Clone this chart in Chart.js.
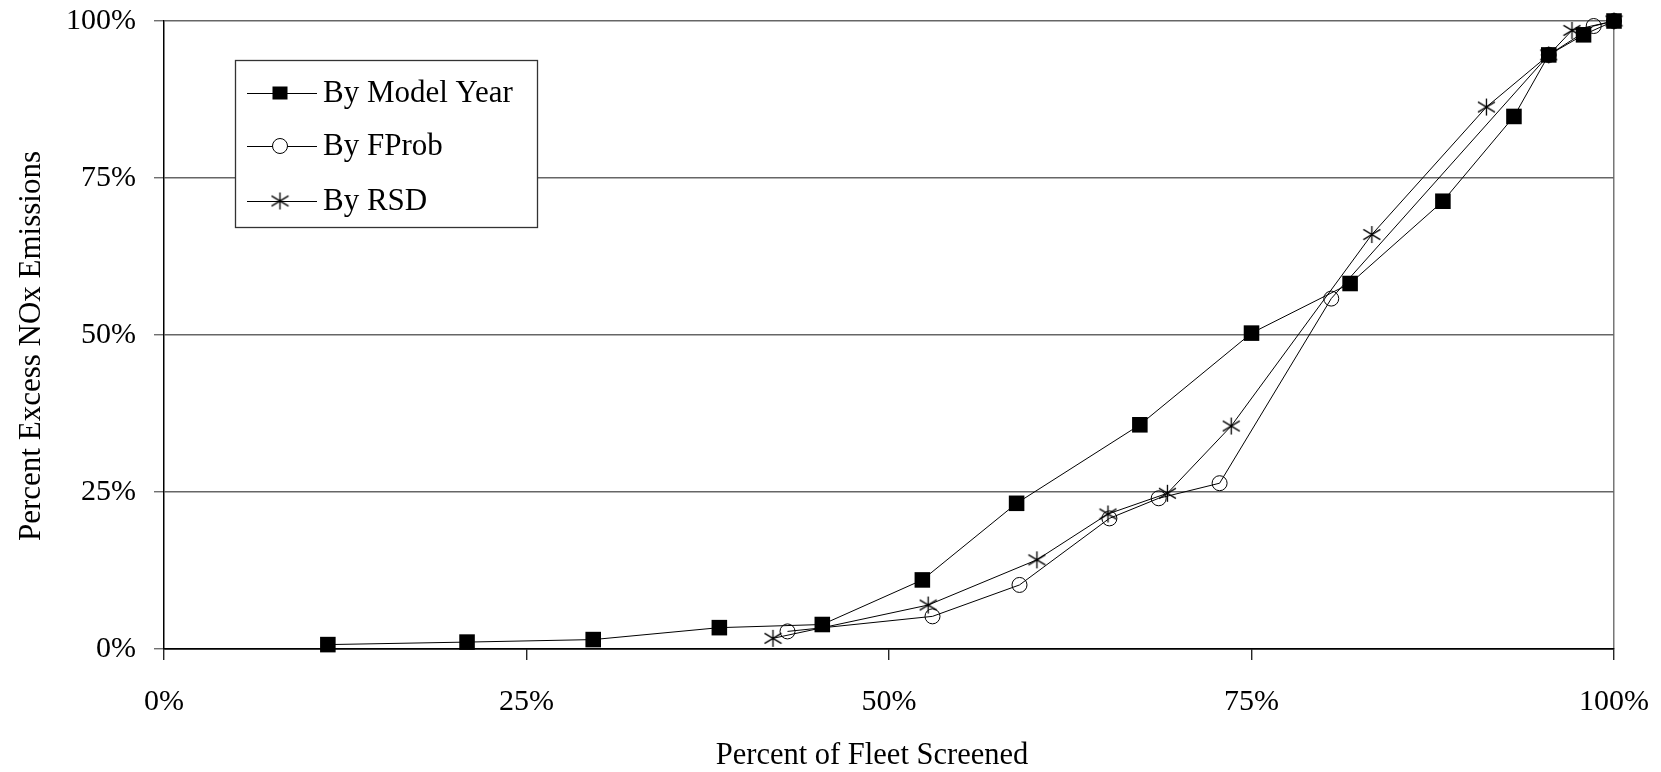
<!DOCTYPE html>
<html>
<head>
<meta charset="utf-8">
<title>Percent Excess NOx Emissions vs Percent of Fleet Screened</title>
<script src="https://cdn.jsdelivr.net/npm/chart.js@4.4.1/dist/chart.umd.min.js"></script>
<style>
  html, body { margin: 0; padding: 0; background: #ffffff; }
  #wrap { width: 1661px; height: 772px; }
</style>
</head>
<body>
<div id="wrap"><canvas id="c" width="1661" height="772"></canvas></div>
<script>
// Cumulative share of excess NOx emissions captured vs share of fleet screened (%)
const modelYearX = [11.3, 20.9, 29.6, 38.3, 45.4, 52.3, 58.8, 67.3, 75.0, 81.8, 88.2, 93.1, 95.5, 97.9, 100];
const modelYearY = [0.7, 1.1, 1.5, 3.4, 3.9, 11.0, 23.2, 35.7, 50.3, 58.2, 71.3, 84.8, 94.6, 97.8, 100];

const fprobX = [43.0, 53.0, 59.0, 65.2, 68.6, 72.8, 80.5, 95.5, 98.6, 100];
const fprobY = [2.8, 5.2, 10.2, 20.8, 24.0, 26.4, 55.8, 94.6, 99.2, 100];

const rsdX = [42.0, 52.7, 60.2, 65.1, 69.2, 73.6, 83.3, 91.2, 95.5, 97.1, 100];
const rsdY = [1.7, 7.0, 14.2, 21.5, 24.8, 35.5, 66.0, 86.3, 94.6, 98.5, 100];

const seriesNames = ['By Model Year', 'By FProb', 'By RSD'];
const xTicks = [0, 25, 50, 75, 100];
const yTicks = [0, 25, 50, 75, 100];
const xTitle = 'Percent of Fleet Screened';
const yTitle = 'Percent Excess NOx Emissions';

const FONT = '"Liberation Serif", "Times New Roman", serif';

function pairs(xs, ys) { return xs.map((x, i) => ({ x: x, y: ys[i] })); }

// Asterisk marker: an X crossed by a vertical stroke
function makeStar(size) {
  const cv = document.createElement('canvas');
  cv.width = size; cv.height = size;
  const g = cv.getContext('2d');
  g.strokeStyle = '#000';
  g.lineWidth = 1.3;
  const m = size / 2, r = size / 2 - 1;
  g.beginPath();
  g.moveTo(m, m - r); g.lineTo(m, m + r);
  g.moveTo(m - r, m - r * 0.6); g.lineTo(m + r, m + r * 0.6);
  g.moveTo(m + r, m - r * 0.6); g.lineTo(m - r, m + r * 0.6);
  g.stroke();
  return cv;
}
const starMarker = makeStar(19);

// Axis titles, placed a little off the scale centres
const axisTitles = {
  id: 'axisTitles',
  afterDraw(chart) {
    const ctx = chart.ctx;
    ctx.save();
    ctx.fillStyle = '#000';
    ctx.textAlign = 'center';
    ctx.textBaseline = 'middle';
    ctx.font = '30.5px ' + FONT;
    ctx.fillText(xTitle, 872, 756);
    ctx.translate(32, 346);
    ctx.rotate(-Math.PI / 2);
    ctx.font = '31px ' + FONT;
    ctx.fillText(yTitle, 0, 0);
    ctx.restore();
  }
};

// Legend drawn inside the plot, as a boxed key at the upper left
const insideLegend = {
  id: 'insideLegend',
  afterDraw(chart) {
    const ctx = chart.ctx;
    const box = { left: 235, top: 60, right: 537, bottom: 227 };
    const rows = [93, 146, 201];
    ctx.save();
    ctx.fillStyle = '#ffffff';
    ctx.fillRect(box.left, box.top, box.right - box.left, box.bottom - box.top);
    ctx.strokeStyle = '#333';
    ctx.lineWidth = 1.3;
    ctx.strokeRect(box.left + 0.5, box.top + 0.5, box.right - box.left, box.bottom - box.top);
    chart.data.datasets.forEach((ds, i) => {
      const y = rows[i];
      ctx.strokeStyle = '#000';
      ctx.lineWidth = 1;
      ctx.beginPath();
      ctx.moveTo(247, y + 0.5); ctx.lineTo(317, y + 0.5);
      ctx.stroke();
      const cx = 280;
      if (ds.pointStyle === 'rect') {
        ctx.fillStyle = '#000';
        const s = 7.5;
        ctx.fillRect(cx - s, y - s + 1, 2 * s, 2 * s - 2);
      } else if (ds.pointStyle === 'circle') {
        ctx.fillStyle = '#fff';
        ctx.beginPath();
        ctx.arc(cx, y, ds.pointRadius, 0, Math.PI * 2);
        ctx.fill();
        ctx.stroke();
      } else {
        ctx.drawImage(ds.pointStyle, cx - ds.pointStyle.width / 2, y - ds.pointStyle.height / 2);
      }
      ctx.fillStyle = '#000';
      ctx.font = '31px ' + FONT;
      ctx.textBaseline = 'middle';
      ctx.textAlign = 'left';
      ctx.fillText(ds.label, 323, y + 1);
    });
    ctx.restore();
  }
};

new Chart(document.getElementById('c'), {
  type: 'line',
  data: {
    datasets: [
      {
        label: seriesNames[0],
        data: pairs(modelYearX, modelYearY),
        borderColor: '#000', borderWidth: 1, tension: 0,
        pointStyle: 'rect', pointRadius: 11,
        pointBackgroundColor: '#000', pointBorderColor: '#000', pointBorderWidth: 0,
        clip: false
      },
      {
        label: seriesNames[1],
        data: pairs(fprobX, fprobY),
        borderColor: '#000', borderWidth: 1, tension: 0,
        pointStyle: 'circle', pointRadius: 7.5,
        pointBackgroundColor: 'rgba(255,255,255,0)', pointBorderColor: '#000', pointBorderWidth: 1,
        clip: false
      },
      {
        label: seriesNames[2],
        data: pairs(rsdX, rsdY),
        borderColor: '#000', borderWidth: 1, tension: 0,
        pointStyle: starMarker, pointRadius: 9,
        pointBackgroundColor: '#000', pointBorderColor: '#000',
        clip: false
      }
    ]
  },
  options: {
    responsive: false,
    animation: false,
    devicePixelRatio: 1,
    layout: { padding: { left: 0, top: 21, right: 47, bottom: 0 } },
    plugins: {
      legend: { display: false },
      tooltip: { enabled: false }
    },
    scales: {
      x: {
        type: 'linear', min: 0, max: 100,
        afterFit(scale) {
          scale.height = 123;
          scale.paddingLeft = 0;
          scale.paddingRight = 0;
        },
        afterBuildTicks(scale) { scale.ticks = xTicks.map(v => ({ value: v })); },
        ticks: {
          color: '#000', padding: 24,
          font: { family: FONT, size: 30 },
          callback: v => v + '%'
        },
        grid: {
          drawOnChartArea: true,
          color: c => (c.tick && c.tick.value === 100) ? '#777' : 'rgba(0,0,0,0)',
          lineWidth: 1.5,
          tickColor: '#000', tickLength: 11, tickWidth: 1.2
        },
        border: { display: true, color: '#000', width: 1.5 },
        title: { display: false }
      },
      y: {
        type: 'linear', min: 0, max: 100,
        afterFit(scale) {
          scale.width = 164;
          scale.paddingTop = 0;
          scale.paddingBottom = 0;
        },
        afterBuildTicks(scale) { scale.ticks = yTicks.map(v => ({ value: v })); },
        ticks: {
          color: '#000', padding: 18,
          font: { family: FONT, size: 30 },
          callback: v => v + '%'
        },
        grid: {
          color: c => (c.tick && c.tick.value === 0) ? '#000' : '#666',
          lineWidth: 1.5,
          tickColor: '#555', tickLength: 10, tickWidth: 1.2
        },
        border: { display: true, color: '#000', width: 1.5 },
        title: { display: false }
      }
    }
  },
  plugins: [axisTitles, insideLegend]
});
</script>
</body>
</html>
